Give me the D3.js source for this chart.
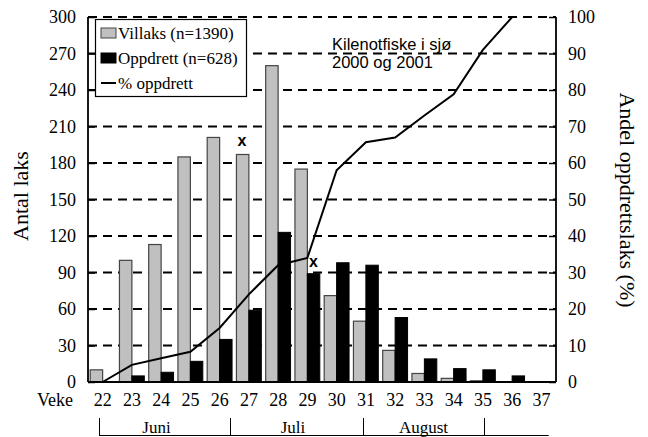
<!DOCTYPE html>
<html>
<head>
<meta charset="utf-8">
<script src="https://cdn.jsdelivr.net/npm/d3@7"></script>
<style>
  body { margin: 0; background: #fff; }
  svg { display: block; }
</style>
</head>
<body>
<svg id="chart" width="648" height="437"></svg>
<script>
// data
const weeks = [22, 23, 24, 25, 26, 27, 28, 29, 30, 31, 32, 33, 34, 35, 36, 37]
const villaks = [10, 100, 113, 185, 201, 187, 260, 175, 71, 50, 26, 7, 3, 1, 0, 0]
const oppdrett = [0, 5, 8, 17, 35, 59, 123, 89, 98, 96, 53, 19, 11, 10, 5, 0]
const pctOppdrett = [0, 4.7, 6.5, 8.3, 14.8, 24, 32, 34, 58, 65.7, 67, 73, 78.8, 91, 100]
const leftTicks = [0, 30, 60, 90, 120, 150, 180, 210, 240, 270, 300]
const rightTicks = [0, 10, 20, 30, 40, 50, 60, 70, 80, 90, 100]
// month brackets, in week units (centre of week = integer)
const months = [
    { name: 'Juni', from: 21.88, to: 26.36, label: 23.84 },
    { name: 'Juli', from: 26.36, to: 30.9, label: 28.51 },
    { name: 'August', from: 30.9, to: 35.04, label: 32.97 }
]
const bracketEnd = 37.25
const marks = [ // the two little "x"
    { week: 27, value: 187, axis: 'left', dx: -7, dy: -8 },
    { week: 29, value: 34, axis: 'right', dx: 6, dy: 9 }
]

const SERIF = '"Liberation Serif", "Times New Roman", serif'
const SANS = '"Liberation Sans", Arial, sans-serif'

const svg = d3.select('#chart')
const m = { left: 88, right: 556, top: 17, bottom: 382 }

const x = d3.scaleBand().domain(weeks).range([m.left, m.right]).paddingInner(0.15).paddingOuter(0.075)
const xc = d => x(d) + x.bandwidth() / 2
const xw = d3.scaleLinear().domain([22, 37]).range([xc(22), xc(37)]) // continuous weeks
const yL = d3.scaleLinear().domain([0, 300]).range([m.bottom, m.top])
const yR = d3.scaleLinear().domain([0, 100]).range([m.bottom, m.top])

// dashed grid
svg.append('g').selectAll('line').data(leftTicks.slice(1)).enter().append('line')
    .attr('x1', m.left).attr('x2', m.right)
    .attr('y1', d => yL(d)).attr('y2', d => yL(d))
    .attr('stroke', '#000').attr('stroke-width', 1.8).attr('stroke-dasharray', '9,6')

// bars
const bw = x.bandwidth() / 2
svg.append('g').selectAll('rect').data(weeks).enter().append('rect')
    .attr('x', d => x(d)).attr('width', bw)
    .attr('y', (d, i) => yL(villaks[i])).attr('height', (d, i) => yL(0) - yL(villaks[i]))
    .attr('fill', '#c0c0c0').attr('stroke', '#444').attr('stroke-width', 1.2)
    .style('display', (d, i) => villaks[i] > 0 ? null : 'none')
svg.append('g').selectAll('rect').data(weeks).enter().append('rect')
    .attr('x', d => x(d) + bw).attr('width', bw)
    .attr('y', (d, i) => yL(oppdrett[i])).attr('height', (d, i) => yL(0) - yL(oppdrett[i]))
    .attr('fill', '#000').attr('stroke', '#000').attr('stroke-width', 1)
    .style('display', (d, i) => oppdrett[i] > 0 ? null : 'none')

// % line
const line = d3.line().x((d, i) => xc(weeks[i])).y(d => yR(d))
svg.append('path').datum(pctOppdrett).attr('d', line)
    .attr('fill', 'none').attr('stroke', '#000').attr('stroke-width', 2)

// frame: left, right, bottom solid
const frame = [[m.left, m.top, m.left, m.bottom], [m.right, m.top, m.right, m.bottom], [m.left, m.bottom, m.right, m.bottom]]
svg.append('g').selectAll('line').data(frame).enter().append('line')
    .attr('x1', d => d[0]).attr('y1', d => d[1]).attr('x2', d => d[2]).attr('y2', d => d[3])
    .attr('stroke', '#000').attr('stroke-width', 1.8)

// axes
const axL = svg.append('g').attr('transform', `translate(${m.left},0)`)
    .call(d3.axisLeft(yL).tickValues(leftTicks).tickSizeInner(-7).tickSizeOuter(0).tickPadding(12))
const axR = svg.append('g').attr('transform', `translate(${m.right},0)`)
    .call(d3.axisRight(yR).tickValues(rightTicks).tickSizeInner(-7).tickSizeOuter(0).tickPadding(12))
;[axL, axR].forEach(a => {
    a.select('.domain').remove()
    a.selectAll('line').attr('stroke', '#000').attr('stroke-width', 1.5)
    a.selectAll('text').style('font-family', SERIF).style('font-size', '18px').attr('fill', '#000')
})

// week labels
svg.append('g').selectAll('text').data(weeks).enter().append('text')
    .attr('x', d => xc(d)).attr('y', 406).attr('text-anchor', 'middle')
    .style('font-family', SERIF).style('font-size', '18px').text(d => d)
svg.append('text').attr('x', 37).attr('y', 406)
    .style('font-family', SERIF).style('font-size', '18px').text('Veke')

// month brackets
const mb = svg.append('g').attr('stroke', '#000').attr('stroke-width', 1)
mb.append('line').attr('x1', xw(months[0].from)).attr('x2', xw(bracketEnd)).attr('y1', 435.5).attr('y2', 435.5)
mb.selectAll('.sep').data(months.map(d => d.from).concat([months[2].to])).enter().append('line')
    .attr('x1', d => Math.round(xw(d)) + 0.5).attr('x2', d => Math.round(xw(d)) + 0.5).attr('y1', 418).attr('y2', 436)
svg.append('g').selectAll('text').data(months).enter().append('text')
    .attr('x', d => xw(d.label)).attr('y', 433).attr('text-anchor', 'middle')
    .style('font-family', SERIF).style('font-size', '17px').text(d => d.name)

// x marks
svg.append('g').selectAll('text').data(marks).enter().append('text')
    .attr('x', d => xc(d.week) + d.dx)
    .attr('y', d => (d.axis === 'left' ? yL(d.value) : yR(d.value)) + d.dy)
    .attr('text-anchor', 'middle').style('font-size', '16px').style('font-weight', 'bold')
    .style('font-family', SANS).text('x')

// axis titles
svg.append('text').attr('transform', 'translate(28,196) rotate(-90)').attr('text-anchor', 'middle')
    .style('font-family', SERIF).style('font-size', '22px').text('Antal laks')
svg.append('text').attr('transform', 'translate(620,200) rotate(90)').attr('text-anchor', 'middle')
    .style('font-family', SERIF).style('font-size', '22px').text('Andel oppdrettslaks (%)')

// inset title
svg.append('text').attr('x', 332).attr('y', 50).style('font-family', SANS).style('font-size', '16.5px').text('Kilenotfiske i sjø')
svg.append('text').attr('x', 332).attr('y', 68).style('font-family', SANS).style('font-size', '16.5px').text('2000 og 2001')

// legend
const lg = svg.append('g').attr('transform', 'translate(95,19)')
lg.append('rect').attr('x', 0.5).attr('y', 0.5).attr('width', 151).attr('height', 77)
    .attr('fill', '#fff').attr('stroke', '#000').attr('stroke-width', 1.2)
const legendItems = [
    { label: 'Villaks (n=1390)', kind: 'grey' },
    { label: 'Oppdrett (n=628)', kind: 'black' },
    { label: '% oppdrett', kind: 'line' }
]
legendItems.forEach((d, i) => {
    const cy = 14 + i * 25
    if (d.kind === 'line') {
        lg.append('line').attr('x1', 6).attr('x2', 21).attr('y1', cy).attr('y2', cy).attr('stroke', '#000').attr('stroke-width', 2)
    } else {
        lg.append('rect').attr('x', 6).attr('y', cy - 5).attr('width', 15).attr('height', 10)
            .attr('fill', d.kind === 'grey' ? '#c0c0c0' : '#000').attr('stroke', d.kind === 'grey' ? '#444' : '#000')
    }
    lg.append('text').attr('x', 23).attr('y', cy + 6)
        .style('font-family', SERIF).style('font-size', '17px').text(d.label)
})
</script>
</body>
</html>
